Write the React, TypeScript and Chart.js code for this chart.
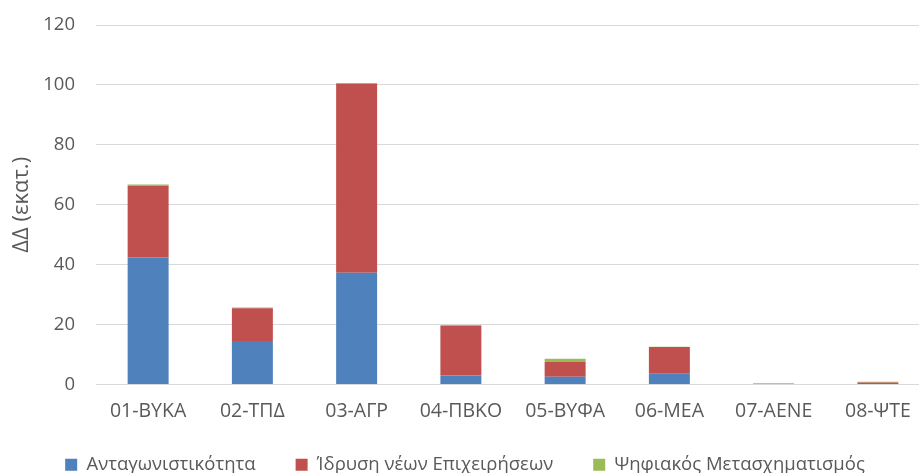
import React, { useEffect, useRef } from "react";
import { Chart, registerables } from "chart.js";

Chart.register(...registerables);

const categories = ["01-ΒΥΚΑ", "02-ΤΠΔ", "03-ΑΓΡ", "04-ΠΒΚΟ", "05-ΒΥΦΑ", "06-ΜΕΑ", "07-ΑΕΝΕ", "08-ΨΤΕ"];
const competitiveness = [42.4, 14.5, 37.3, 3.0, 2.6, 3.6, 0.3, 0.2];
const newBusinesses = [24.0, 11.0, 63.1, 16.7, 4.9, 8.9, 0, 0.5];
const digital = [0.4, 0.2, 0.3, 0.1, 1.1, 0.1, 0, 0.2];
const seriesNames = ["Ανταγωνιστικότητα", "Ίδρυση νέων Επιχειρήσεων", "Ψηφιακός Μετασχηματισμός"];
const yAxisTitle = "ΔΔ (εκατ.)";

const FONT = "'Open Sans', 'Noto Sans', sans-serif";
const TEXT = "#595959";
const GRID = "#d9d9d9";

const legendShift = {
  id: "legendShift",
  afterLayout(chart: any) {
    const l = chart.legend;
    if (l) {
      l.top -= 9;
      l.bottom -= 9;
    }
  },
};

export default function App() {
  const ref = useRef<HTMLCanvasElement | null>(null);
  useEffect(() => {
    if (!ref.current) return;
    const chart = new Chart(ref.current, {
      type: "bar",
      data: {
        labels: categories,
        datasets: [
          { label: seriesNames[0], data: competitiveness, backgroundColor: "#4F81BD" },
          { label: seriesNames[1], data: newBusinesses, backgroundColor: "#C0504D" },
          { label: seriesNames[2], data: digital, backgroundColor: "#9BBB59" },
        ],
      },
      plugins: [legendShift],
      options: {
        animation: false,
        responsive: false,
        maintainAspectRatio: false,
        layout: { padding: { top: 12, right: 10, left: 0, bottom: 0 } },
        datasets: { bar: { categoryPercentage: 1, barPercentage: 0.393 } },
        plugins: {
          legend: {
            position: "bottom",
            labels: {
              boxWidth: 12,
              boxHeight: 12,
              padding: 40,
              color: TEXT,
              font: { family: FONT, size: 18.5 },
            },
          },
          tooltip: { enabled: false },
        },
        scales: {
          x: {
            stacked: true,
            grid: { display: false, drawTicks: false },
            border: { display: true, color: GRID, width: 1 },
            ticks: { color: TEXT, font: { family: FONT, size: 19.5 }, padding: 15, maxRotation: 0, autoSkip: false },
            afterFit: (s: any) => { s.height = 40; },
          },
          y: {
            stacked: true,
            min: 0,
            max: 120,
            ticks: { stepSize: 20, color: TEXT, font: { family: FONT, size: 18.5 }, padding: 21 },
            grid: { color: GRID, lineWidth: 1, drawTicks: false },
            border: { display: false },
            title: {
              display: true,
              text: yAxisTitle,
              color: TEXT,
              font: { family: FONT, size: 22 },
              padding: { top: 9, bottom: 0 },
            },
            afterFit: (s: any) => { s.width = 96; },
          },
        },
      },
    });
    return () => chart.destroy();
  }, []);
  return (
    <div style={{ position: "fixed", left: 0, top: 0, width: 919, height: 473, overflow: "hidden", background: "#fff" }}>
      <canvas ref={ref} width={940} height={500} style={{ display: "block", position: "absolute", left: 0, top: -7 }} />
    </div>
  );
}
